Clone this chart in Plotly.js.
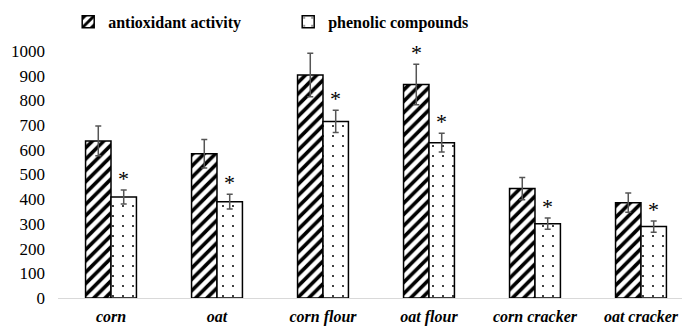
<!DOCTYPE html>
<html><head><meta charset="utf-8">
<script src="https://cdn.plot.ly/plotly-3.0.1.min.js"></script>
</head><body style="margin:0"><div id="c" style="width:682px;height:327px"></div>
<script>
const categories = ["corn", "oat", "corn flour", "oat flour", "corn cracker", "oat cracker"];
const antioxidant = [636, 584, 903, 864, 443, 386];
const antioxidantErr = [60, 58, 88, 82, 45, 39];
const phenolic = [409, 390, 715, 629, 301, 289];
const phenolicErr = [28, 30, 45, 38, 23, 23];
const antioxidantSig = [false, false, false, true, false, false];
const phenolicSig = [true, true, true, true, true, true];
const yTicks = [0,100,200,300,400,500,600,700,800,900,1000];

const FAM = "Liberation Serif";
const traces = [
  {type:"bar", name:"<b>antioxidant activity</b>", x:categories, y:antioxidant,
   error_y:{type:"data", array:antioxidantErr, visible:true, color:"#555", thickness:1.5, width:3},
   marker:{color:"#fff", line:{color:"#000", width:1.5},
     pattern:{shape:"/", size:8, solidity:0.45, fgcolor:"#000", bgcolor:"#fff", fillmode:"replace"}}},
  {type:"bar", name:"<b>phenolic compounds</b>", x:categories, y:phenolic,
   error_y:{type:"data", array:phenolicErr, visible:true, color:"#555", thickness:1.5, width:3},
   marker:{color:"#fff", line:{color:"#000", width:1.5},
     pattern:{shape:".", size:10, solidity:0.03, fgcolor:"#000", bgcolor:"#fff", fillmode:"replace"}}}
];
const annotations = [];
categories.forEach((c,i)=>{
  if (antioxidantSig[i]) annotations.push({x:c, y:antioxidant[i]+antioxidantErr[i], xref:"x", yref:"y",
    text:"*", showarrow:false, xshift:-12.75, yanchor:"bottom", yshift:-3, font:{family:FAM,size:22,color:"#000"}});
  if (phenolicSig[i]) annotations.push({x:c, y:phenolic[i]+phenolicErr[i], xref:"x", yref:"y",
    text:"*", showarrow:false, xshift:12.75, yanchor:"bottom", yshift:-3, font:{family:FAM,size:22,color:"#000"}});
});
const layout = {
  width:682, height:327, margin:{l:58, r:0, t:51, b:29},
  paper_bgcolor:"#fff", plot_bgcolor:"#fff",
  barmode:"group", bargap:0.52, bargroupgap:0,
  showlegend:true,
  legend:{orientation:"h", x:0.1, xref:"container", y:0.985, yref:"container", yanchor:"top", xanchor:"left",
    entrywidth:175, entrywidthmode:"pixels", itemwidth:30,
    font:{family:FAM, size:16, color:"#000"}},
  xaxis:{type:"category", range:[-0.5, 5.387], showline:true, linecolor:"#d9d9d9", linewidth:1,
    ticks:"", ticklabelstandoff:4, tickfont:{family:FAM, size:16, color:"#000"},
    tickvals:categories, ticktext:categories.map(s=>"<b><i>"+s+"</i></b>")},
  yaxis:{range:[0,1000], tickvals:yTicks, showgrid:false, zeroline:false, showline:false,
    ticks:"", ticklabelstandoff:12, tickfont:{family:FAM, size:17, color:"#000"}},
  annotations:annotations
};
Plotly.newPlot("c", traces, layout, {displayModeBar:false});
</script></body></html>
